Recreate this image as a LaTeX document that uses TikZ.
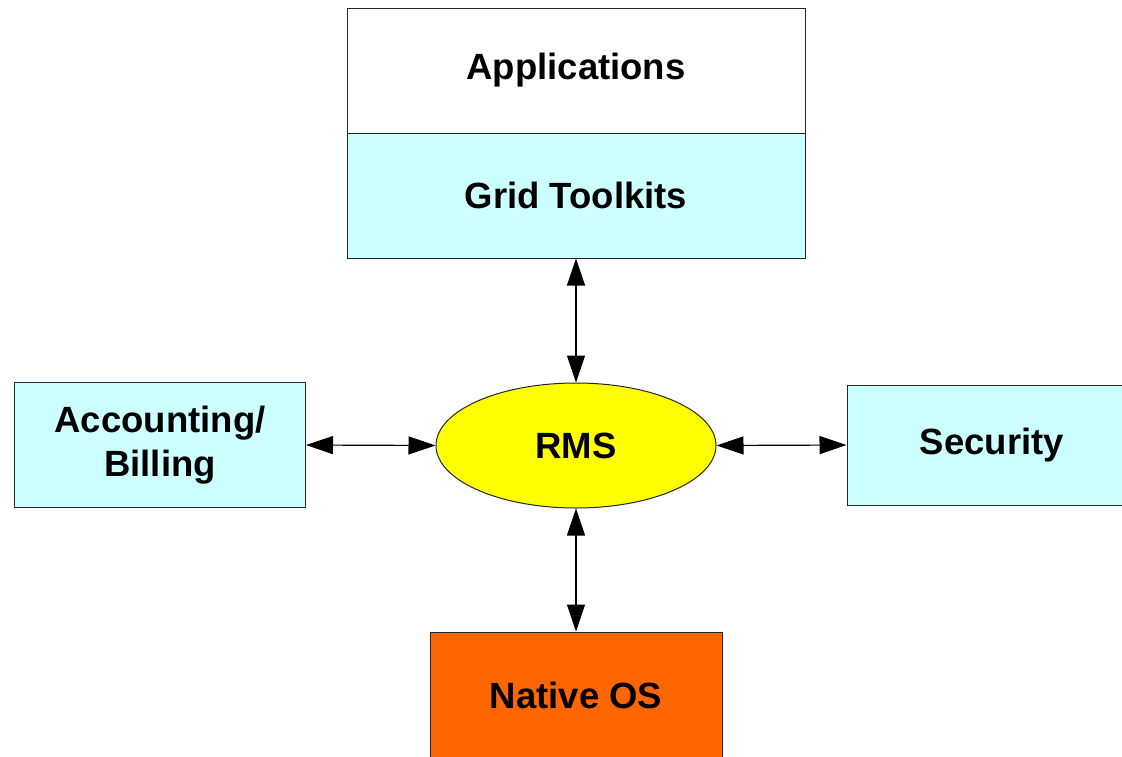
\documentclass[tikz,border=0pt]{standalone}
\usepackage{fontspec}
\setmainfont{Liberation Sans}
\usetikzlibrary{arrows.meta,shapes.geometric}
\definecolor{lcyan}{HTML}{CCFFFF}
\definecolor{rmsyellow}{HTML}{FFFF00}
\definecolor{osorange}{HTML}{FF6600}
\tikzset{
  box/.style={draw=black!85, line width=1pt, inner sep=0pt, align=center,
    font=\fontsize{36.5}{44}\selectfont\bfseries},
  conn/.style={line width=1.2pt, {Triangle[length=27pt,width=18pt]}-{Triangle[length=27pt,width=18pt]}}
}
\begin{document}
\begin{tikzpicture}[x=1pt,y=-1pt]
\clip (0,0) rectangle (1122,756);
\fill[white] (0,0) rectangle (1122,756);
\node[box, fill=white, minimum width=458pt, minimum height=125pt] (app) at (576,70.5) {Applications};
\node[box, fill=lcyan, minimum width=458pt, minimum height=125pt] (grid) at (576,195.5) {Grid Toolkits};
\node[box, fill=rmsyellow, ellipse, minimum width=280pt, minimum height=125pt] (rms) at (576,445.5) {RMS};
\node[box, fill=lcyan, minimum width=291pt, minimum height=125pt] (acc) at (160,445) {Accounting/\\Billing};
\node[box, fill=lcyan, minimum width=290pt, minimum height=120pt] (sec) at (992,445) {Security};
\node[box, fill=osorange, minimum width=292pt, minimum height=126pt] (os) at (576,695) {Native OS};
\draw[conn] (grid.south) -- (rms.north);
\draw[conn] (acc.east) -- (rms.west);
\draw[conn] (rms.east) -- (sec.west);
\draw[conn] (rms.south) -- (os.north);
\end{tikzpicture}
\end{document}
